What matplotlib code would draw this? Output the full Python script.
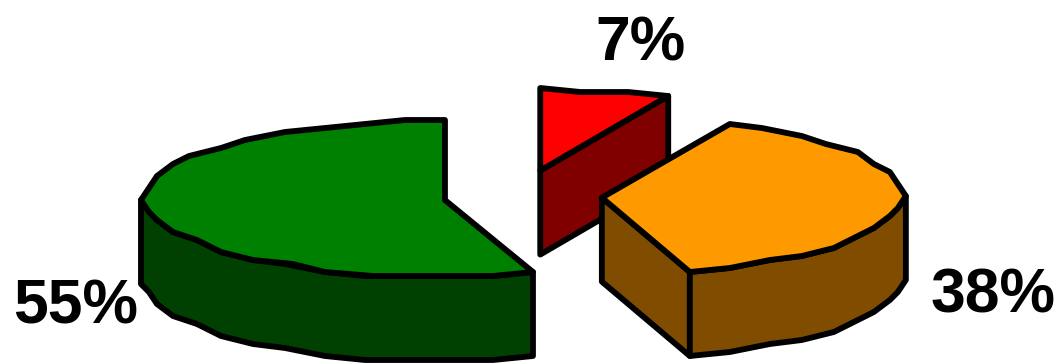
import numpy as np
import matplotlib.pyplot as plt

labels = ['55%', '38%', '7%']
values = [55, 38, 7]
top_colors = ['#008000', '#FF9900', '#FF0000']
side_colors = ['#004000', '#804D00', '#800000']

# pie geometry in image pixels
cx, cy = 523, 196
rx, ry = 305, 79
depth = 84
explode = 79
explode_squash = 0.33
xgrid, ygrid = 8, 4  # the original outline is very coarse


def arc(x0, y0, a0, a1):
    n = max(int(abs(a1 - a0) / 8), 1)
    a = np.radians(np.linspace(a0, a1, n + 1))
    x = rx * np.cos(a)
    y = y0 - ry * np.sin(a)
    return np.column_stack([x0 + np.trunc(x / xgrid) * xgrid,
                            np.floor(y / ygrid) * ygrid])


def poly(ax, pts, color, z):
    ax.fill(pts[:, 0], pts[:, 1], facecolor=color, edgecolor='black',
            linewidth=4.2, joinstyle='round', zorder=z)


fig = plt.figure(figsize=(10.61, 3.64), dpi=100)
ax = fig.add_axes([0, 0, 1, 1])
ax.set_xlim(0, 1061)
ax.set_ylim(364, 0)
ax.axis('off')

# red goes behind the other two, orange in front
order = [2, 0, 1]
starts = 90 + 360 * np.concatenate([[0], np.cumsum(values)[:-1]]) / sum(values)
for k, i in enumerate(order):
    a0 = starts[i]
    a1 = a0 + 360 * values[i] / sum(values)
    mid = np.radians((a0 + a1) / 2)
    x0 = cx + explode * np.cos(mid)
    y0 = cy - explode * explode_squash * np.sin(mid)
    z = 2 * k + 1
    top_arc = arc(x0, y0, a0, a1)
    apex = np.array([[x0, y0]])

    # cut faces that turn towards the viewer
    for edge, normal in ((a0, a0 - 90), (a1, a1 + 90)):
        if np.sin(np.radians(normal)) < -1e-6:
            p = arc(x0, y0, edge, edge)[:1]
            face = np.vstack([apex, p, p + [0, depth], apex + [0, depth]])
            poly(ax, face, side_colors[i], z)

    # outer wall, only the front half of the ellipse shows
    lo, hi = max(a0, 180), min(a1, 360)
    if hi > lo:
        wall = arc(x0, y0, lo, hi)
        wall = np.vstack([wall, wall[::-1] + [0, depth]])
        poly(ax, wall, side_colors[i], z)

    poly(ax, np.vstack([apex, top_arc]), top_colors[i], z + 1)

font = dict(family='Liberation Sans', fontweight='bold', fontsize=45,
            color='black', va='center', ha='center')
ax.text(76, 307, labels[0], zorder=10, **font)
ax.text(993, 296, labels[1], zorder=10, **font)
ax.text(640, 44, labels[2], zorder=10, **font)

fig.savefig('out.png', dpi=100)
